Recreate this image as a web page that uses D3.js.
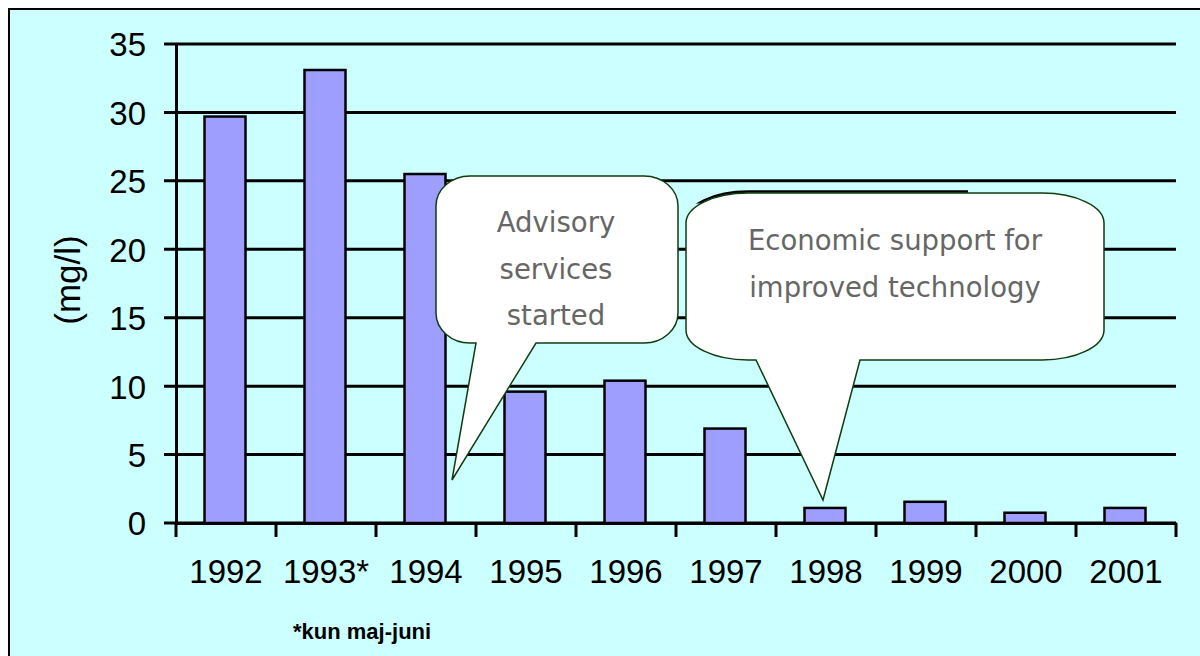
<!DOCTYPE html>
<html>
<head>
<meta charset="utf-8">
<script src="https://cdn.jsdelivr.net/npm/d3@7"></script>
<style>
  body { margin: 0; background: #ffffff; }
  svg { display: block; }
</style>
</head>
<body>
<svg id="chart" width="1200" height="656"></svg>
<script>
// data
const years = ["1992", "1993*", "1994", "1995", "1996", "1997", "1998", "1999", "2000", "2001"];
const values = [29.7, 33.1, 25.5, 9.6, 10.4, 6.9, 1.1, 1.55, 0.75, 1.1];
const yTicks = [0, 5, 10, 15, 20, 25, 30, 35];
const callout1Lines = ["Advisory", "services", "started"];
const callout2Lines = ["Economic support for", "improved technology"];

const svg = d3.select("#chart");

// background + frame (frame runs off the right and bottom edges)
svg.append("rect").attr("x", 9).attr("y", 9).attr("width", 1220).attr("height", 680)
  .attr("fill", "#ccffff").attr("stroke", "#000").attr("stroke-width", 2);

let x = d3.scaleBand().domain(years).range([176, 1176]);
let y = d3.scaleLinear().domain([0, 35]).range([523, 44]);

// gridlines
svg.append("g").selectAll("line").data(yTicks).enter().append("line")
  .attr("x1", 164).attr("x2", 1176)
  .attr("y1", d => y(d)).attr("y2", d => y(d))
  .attr("stroke", "#000").attr("stroke-width", 3);

// bars
let bw = x.bandwidth() * 0.41;
svg.append("g").selectAll("rect").data(values).enter().append("rect")
  .attr("x", (d, i) => x(years[i]) + (x.bandwidth() - bw) / 2 - 1)
  .attr("y", d => y(d))
  .attr("width", bw)
  .attr("height", d => y(0) - y(d))
  .attr("fill", "#9e9eff").attr("stroke", "#000").attr("stroke-width", 2.5);

// y axis
let yAxis = svg.append("g").attr("transform", "translate(176,0)")
  .call(d3.axisLeft(y).tickValues(yTicks).tickSizeInner(0).tickSizeOuter(0).tickPadding(30));
yAxis.select(".domain").attr("stroke", "#000").attr("stroke-width", 3);
yAxis.selectAll(".tick line").remove();
yAxis.selectAll("text").attr("font-family", "Liberation Sans, Arial, sans-serif")
  .attr("font-size", 33).attr("fill", "#000").attr("dy", "0.36em");

// x axis
let xAxis = svg.append("g").attr("transform", "translate(0,523)")
  .call(d3.axisBottom(x).tickSizeInner(0).tickSizeOuter(0).tickPadding(37));
xAxis.select(".domain").attr("stroke", "#000").attr("stroke-width", 3);
xAxis.selectAll("text").attr("font-family", "Liberation Sans, Arial, sans-serif")
  .attr("font-size", 33).attr("fill", "#000");

// x ticks at category boundaries
let bounds = years.map(d => x(d)).concat([x.range()[1]]);
svg.append("g").selectAll("line").data(bounds).enter().append("line")
  .attr("x1", d => d).attr("x2", d => d).attr("y1", 523).attr("y2", 537)
  .attr("stroke", "#000").attr("stroke-width", 3);

// y axis title
svg.append("text").attr("transform", "translate(80,280) rotate(-90)")
  .attr("text-anchor", "middle")
  .attr("font-family", "Liberation Sans, Arial, sans-serif").attr("font-size", 35)
  .text("(mg/l)");

// footnote
svg.append("text").attr("x", 293).attr("y", 639)
  .attr("font-family", "Liberation Sans, Arial, sans-serif").attr("font-size", 22).attr("font-weight", "bold")
  .text("*kun maj-juni");

// rounded callout path with tail on the bottom edge
function callout(x0, y0, x1, y1, rx, ry, t0, t1, tip) {
  let p = d3.path();
  p.moveTo(x0 + rx, y0);
  p.lineTo(x1 - rx, y0);
  let c = (xa, ya, xb, yb, cx, cy) => p.bezierCurveTo(
    xa + (cx - xa) * 0.55, ya + (cy - ya) * 0.55, xb + (cx - xb) * 0.55, yb + (cy - yb) * 0.55, xb, yb);
  c(x1 - rx, y0, x1, y0 + ry, x1, y0);
  p.lineTo(x1, y1 - ry);
  c(x1, y1 - ry, x1 - rx, y1, x1, y1);
  p.lineTo(t1, y1);
  p.lineTo(tip[0], tip[1]);
  p.lineTo(t0, y1);
  p.lineTo(x0 + rx, y1);
  c(x0 + rx, y1, x0, y1 - ry, x0, y1);
  p.lineTo(x0, y0 + ry);
  c(x0, y0 + ry, x0 + rx, y0, x0, y0);
  p.closePath();
  return p.toString();
}

let c1 = callout(436, 176, 678, 343, 34, 30, 476, 536, [452, 480]);
let c2 = callout(686, 193, 1104, 360, 62, 30, 756, 860, [823, 500]);

// dark edge peeking out just above the second callout's top-left part
svg.append("clipPath").attr("id", "edgeclip")
  .append("rect").attr("x", 686).attr("y", 185).attr("width", 282).attr("height", 20);
svg.append("path").attr("d", c2).attr("transform", "translate(0,-1.5)")
  .attr("clip-path", "url(#edgeclip)")
  .attr("fill", "none").attr("stroke", "#000").attr("stroke-width", 2.5);

svg.append("path").attr("d", c1)
  .attr("fill", "#fff").attr("stroke", "#0f3d0f").attr("stroke-width", 1.5);
svg.append("path").attr("d", c2)
  .attr("fill", "#fff").attr("stroke", "#0f3d0f").attr("stroke-width", 1.5);

svg.append("g").selectAll("text").data(callout1Lines).enter().append("text")
  .attr("x", 556).attr("y", (d, i) => 232 + i * 46.5)
  .attr("text-anchor", "middle")
  .attr("font-family", "DejaVu Sans, Verdana, sans-serif").attr("font-size", 27.5).attr("fill", "#666")
  .text(d => d);

svg.append("g").selectAll("text").data(callout2Lines).enter().append("text")
  .attr("x", 895).attr("y", (d, i) => 250 + i * 46.5)
  .attr("text-anchor", "middle")
  .attr("font-family", "DejaVu Sans, Verdana, sans-serif").attr("font-size", 27.5).attr("fill", "#666")
  .text(d => d);
</script>
</body>
</html>
